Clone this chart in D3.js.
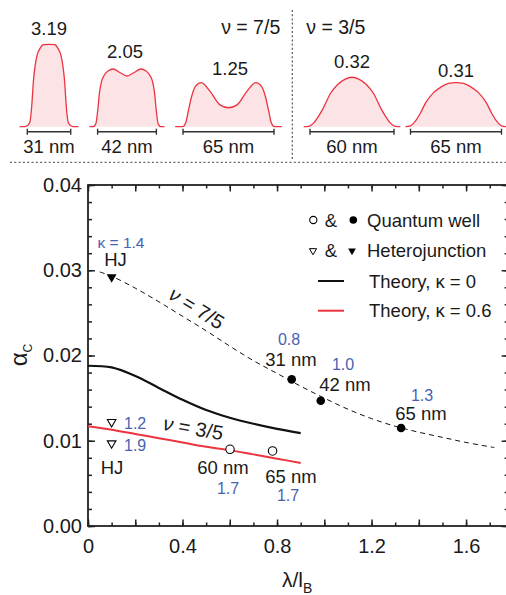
<!DOCTYPE html>
<html>
<head>
<meta charset="utf-8">
<script src="https://cdn.jsdelivr.net/npm/d3@7"></script>
<style>
  html, body { margin: 0; padding: 0; background: #fff; }
  svg text { font-family: "Liberation Sans", Arial, Helvetica, sans-serif; }
</style>
</head>
<body>
<svg id="chart" width="506" height="595"></svg>
<script>
// ---------------- DATA ----------------
// Top panel: density profiles (x in nm relative to well centre, y relative height)
const profileLabels = ["3.19", "2.05", "1.25", "0.32", "0.31"];
const wellWidths = [31, 42, 65, 60, 65];
const wellNu = ["7/5", "7/5", "7/5", "3/5", "3/5"];
const p1x = [-21, -17, -14, -12.8, -12, -11.2, -9.9, -8.3, -6.4, -4.1, 0, 4.1, 6.4, 8.3, 9.9, 11.2, 12, 12.8, 14, 17, 21];
const p1y = [0, 0, 0.04, 0.16, 0.33, 0.54, 0.74, 0.88, 0.95, 0.995, 1, 0.995, 0.95, 0.88, 0.74, 0.54, 0.33, 0.16, 0.04, 0, 0];
const p2x = [-26.8, -24.1, -22.2, -20.9, -19.6, -18.2, -16.1, -13.4, -9.9, -4.8, 0, 4.8, 9.9, 13.4, 16.1, 18.2, 19.6, 20.9, 22.2, 24.1, 26.8];
const p2y = [0, 0, 0.04, 0.2, 0.42, 0.55, 0.63, 0.68, 0.70, 0.655, 0.615, 0.655, 0.70, 0.68, 0.63, 0.55, 0.42, 0.2, 0.04, 0, 0];
const p3x = [-38.1, -32.8, -30.5, -28.6, -26.3, -23.6, -19.4, -13, -6.1, 0, 6.1, 13, 19.4, 23.6, 26.3, 28.6, 30.5, 32.8, 38.1];
const p3y = [0, 0, 0.05, 0.2, 0.37, 0.49, 0.535, 0.425, 0.265, 0.23, 0.265, 0.425, 0.535, 0.49, 0.37, 0.2, 0.05, 0, 0];
const p4x = [-34.5, -31, -27.6, -24.2, -20.7, -15.5, -10.4, -5.2, 0, 5.2, 10.4, 15.5, 20.7, 24.2, 27.6, 31, 34.5];
const p4y = [0, 0.005, 0.04, 0.12, 0.22, 0.40, 0.51, 0.575, 0.60, 0.575, 0.51, 0.40, 0.22, 0.12, 0.04, 0.005, 0];
const p5x = [-36.1, -32.5, -28.9, -25.3, -21.7, -16.2, -10.8, -5.4, 0, 5.4, 10.8, 16.2, 21.7, 25.3, 28.9, 32.5, 36.1];
const p5y = [0, 0.01, 0.07, 0.17, 0.29, 0.41, 0.48, 0.525, 0.535, 0.525, 0.48, 0.41, 0.29, 0.17, 0.07, 0.01, 0];

// Main panel
const xTheory = [0, 0.1, 0.2, 0.3, 0.4, 0.5, 0.6, 0.7, 0.8, 0.9];
const theoryK0 = [0.0188, 0.0186, 0.0176, 0.0162, 0.0148, 0.0136, 0.0127, 0.0120, 0.0114, 0.0109];
const theoryK06 = [0.0117, 0.0113, 0.0108, 0.0103, 0.0098, 0.0093, 0.0089, 0.0084, 0.0079, 0.0074];
const xGuide75 = [0.05, 0.1, 0.2, 0.3, 0.4, 0.5, 0.6, 0.7, 0.8, 0.9, 1.0, 1.1, 1.2, 1.3, 1.4, 1.5, 1.6, 1.72];
const guide75 = [0.0298, 0.0293, 0.0279, 0.0263, 0.0246, 0.0229, 0.0211, 0.0194, 0.0179, 0.0164, 0.0150, 0.0137, 0.0126, 0.0117, 0.0110, 0.0104, 0.0098, 0.0092];
const qw75x = [0.862, 0.985, 1.325];
const qw75y = [0.0172, 0.0147, 0.0115];
const qw75labels = ["31 nm", "42 nm", "65 nm"];
const qw75kappa = ["0.8", "1.0", "1.3"];
const qw35x = [0.601, 0.781];
const qw35y = [0.0090, 0.0088];
const qw35labels = ["60 nm", "65 nm"];
const qw35kappa = ["1.7", "1.7"];
const hj75x = [0.1];
const hj75y = [0.0292];
const hj35x = [0.1, 0.1];
const hj35y = [0.0122, 0.0097];
const hj35kappa = ["1.2", "1.9"];
const xTickLabels = [0, 0.4, 0.8, 1.2, 1.6];
const yTickLabels = [0, 0.01, 0.02, 0.03, 0.04];
const legendItems = ["Quantum well", "Heterojunction", "Theory, \u03ba = 0", "Theory, \u03ba = 0.6"];

// ---------------- STYLE ----------------
const RED = "#ec3440", PINK = "#fce3e6", BLUE = "#4862b0", INK = "#1a1a1a";
const svg = d3.select("#chart");

// ---------------- TOP PANEL ----------------
const centers = [49, 127, 228.5, 352, 456];
const nmPx = 1.4;
const baseY = 126.7;
const hScale = d3.scaleLinear().domain([0, 1]).range([baseY, baseY - 82.4]);
const profiles = [[p1x, p1y], [p2x, p2y], [p3x, p3y], [p4x, p4y], [p5x, p5y]];
const labelY = [34.6, 58.3, 75, 68.3, 76.6];

profiles.forEach(([px, py], i) => {
  const xs = d3.scaleLinear().domain([-1, 1]).range([centers[i] - nmPx, centers[i] + nmPx]);
  const pts = px.map((x, k) => [x, py[k]]);
  const area = d3.area().x(d => xs(d[0])).y0(baseY).y1(d => hScale(d[1])).curve(d3.curveMonotoneX);
  const line = d3.line().x(d => xs(d[0])).y(d => hScale(d[1])).curve(d3.curveMonotoneX);
  svg.append("path").attr("d", area(pts)).attr("fill", PINK);
  svg.append("path").attr("d", line(pts)).attr("fill", "none").attr("stroke", RED).attr("stroke-width", 1.3);
  // scale bar for well width
  const half = wellWidths[i] * nmPx / 2;
  const g = svg.append("g").attr("stroke", "#333").attr("stroke-width", 1.4);
  g.append("line").attr("x1", centers[i] - half).attr("x2", centers[i] + half).attr("y1", 131.7).attr("y2", 131.7);
  g.append("line").attr("x1", centers[i] - half).attr("x2", centers[i] - half).attr("y1", 128.7).attr("y2", 134.7);
  g.append("line").attr("x1", centers[i] + half).attr("x2", centers[i] + half).attr("y1", 128.7).attr("y2", 134.7);
  svg.append("text").attr("x", centers[i]).attr("y", 153.3).attr("text-anchor", "middle")
    .attr("font-size", 18.5).attr("fill", INK).text(wellWidths[i] + " nm");
  svg.append("text").attr("x", centers[i] + (i === 1 ? -2 : (i === 2 ? 1.5 : 0))).attr("y", labelY[i]).attr("text-anchor", "middle")
    .attr("font-size", 18.5).attr("fill", INK).text(profileLabels[i]);
});
svg.append("text").attr("x", 250.7).attr("y", 34).attr("text-anchor", "middle").attr("font-size", 19.5).attr("fill", INK)
  .text("\u03bd = " + wellNu[0]);
svg.append("text").attr("x", 335.8).attr("y", 34).attr("text-anchor", "middle").attr("font-size", 19.5).attr("fill", INK)
  .text("\u03bd = " + wellNu[3]);
svg.append("line").attr("x1", 292.3).attr("x2", 292.3).attr("y1", 10).attr("y2", 161)
  .attr("stroke", "#555").attr("stroke-width", 1.2).attr("stroke-dasharray", "2,2.2");
svg.append("line").attr("x1", 10).attr("x2", 506).attr("y1", 162.3).attr("y2", 162.3)
  .attr("stroke", "#666").attr("stroke-width", 1.3).attr("stroke-dasharray", "2,2.3");

// ---------------- MAIN PANEL ----------------
const x0 = 88, x1 = 88 + 1.78 * 236.3, yTop = 185, yBot = 526;
const x = d3.scaleLinear().domain([0, 1.78]).range([x0, x1]);
const y = d3.scaleLinear().domain([0, 0.04]).range([yBot, yTop]);

// frame
svg.append("rect").attr("x", x0).attr("y", yTop).attr("width", x1 - x0).attr("height", yBot - yTop)
  .attr("fill", "none").attr("stroke", "#222").attr("stroke-width", 1.8);

function styleAxis(g) {
  g.select(".domain").remove();
  g.selectAll("line").attr("stroke", "#222").attr("stroke-width", 1.5);
  g.selectAll("text").attr("fill", INK);
}
const xMinor = d3.range(0, 18).map(i => i * 0.1);
const xMajor = d3.range(0, 9).map(i => i * 0.2);
const yMinor = d3.range(0, 21).map(i => i * 0.002);
const yMajor = yTickLabels;

// bottom
svg.append("g").attr("transform", `translate(0,${yBot})`)
  .call(d3.axisBottom(x).tickValues(xMinor).tickSize(-3.5).tickFormat("")).call(styleAxis);
svg.append("g").attr("transform", `translate(0,${yBot})`)
  .call(d3.axisBottom(x).tickValues(xMajor).tickSize(-6.5).tickFormat("")).call(styleAxis);
svg.append("g").attr("transform", `translate(0,${yBot})`)
  .call(d3.axisBottom(x).tickValues(xTickLabels).tickSize(0).tickPadding(13).tickFormat(d => d === 0 ? "0" : d3.format(".1f")(d)))
  .call(styleAxis).selectAll("text").attr("font-size", 20).attr("font-family", "Liberation Sans, Arial, sans-serif");
// top
svg.append("g").attr("transform", `translate(0,${yTop})`)
  .call(d3.axisTop(x).tickValues(xMinor).tickSize(-3.5).tickFormat("")).call(styleAxis);
svg.append("g").attr("transform", `translate(0,${yTop})`)
  .call(d3.axisTop(x).tickValues(xMajor).tickSize(-6.5).tickFormat("")).call(styleAxis);
// left
svg.append("g").attr("transform", `translate(${x0},0)`)
  .call(d3.axisLeft(y).tickValues(yMinor).tickSize(-4).tickFormat("")).call(styleAxis);
svg.append("g").attr("transform", `translate(${x0},0)`)
  .call(d3.axisLeft(y).tickValues(yMajor).tickSize(-7).tickFormat("")).call(styleAxis);
svg.append("g").attr("transform", `translate(${x0},0)`)
  .call(d3.axisLeft(y).tickValues(yTickLabels).tickSize(0).tickPadding(6).tickFormat(d3.format(".2f")))
  .call(styleAxis).selectAll("text").attr("font-size", 20).attr("font-family", "Liberation Sans, Arial, sans-serif");
// right
svg.append("g").attr("transform", `translate(${x1},0)`)
  .call(d3.axisRight(y).tickValues(yMinor).tickSize(-4).tickFormat("")).call(styleAxis);
svg.append("g").attr("transform", `translate(${x1},0)`)
  .call(d3.axisRight(y).tickValues(yMajor).tickSize(-7).tickFormat("")).call(styleAxis);

// axis titles
const xt = svg.append("text").attr("x", 282).attr("y", 587).attr("font-size", 21).attr("fill", INK);
xt.append("tspan").text("\u03bb/l");
xt.append("tspan").attr("font-size", 14).attr("dy", 6).text("B");
const yt = svg.append("text").attr("transform", "translate(27,355) rotate(-90)").attr("text-anchor", "middle")
  .attr("font-size", 24).attr("fill", INK);
yt.append("tspan").text("\u03b1");
yt.append("tspan").attr("font-size", 12).attr("dy", 5).text("C");

// curves
const lineGen = d3.line().x(d => x(d[0])).y(d => y(d[1])).curve(d3.curveCatmullRom.alpha(0.5));
svg.append("path").attr("d", lineGen(xGuide75.map((v, i) => [v, guide75[i]])))
  .attr("fill", "none").attr("stroke", "#111").attr("stroke-width", 1).attr("stroke-dasharray", "5,4");
svg.append("path").attr("d", lineGen(xTheory.map((v, i) => [v, theoryK0[i]])))
  .attr("fill", "none").attr("stroke", "#111").attr("stroke-width", 2.2);
svg.append("path").attr("d", lineGen(xTheory.map((v, i) => [v, theoryK06[i]])))
  .attr("fill", "none").attr("stroke", RED).attr("stroke-width", 2);

// markers
const triDown = d3.symbol().type(d3.symbolTriangle).size(42);
const triDownSmall = d3.symbol().type(d3.symbolTriangle).size(32);
qw75x.forEach((v, i) => svg.append("circle").attr("cx", x(v)).attr("cy", y(qw75y[i])).attr("r", 4.3).attr("fill", "#000"));
qw35x.forEach((v, i) => svg.append("circle").attr("cx", x(v)).attr("cy", y(qw35y[i])).attr("r", 4.2)
  .attr("fill", "#fff").attr("stroke", "#000").attr("stroke-width", 1.1));
hj75x.forEach((v, i) => svg.append("path").attr("d", triDown())
  .attr("transform", `translate(${x(v)},${y(hj75y[i])}) rotate(180)`).attr("fill", "#000"));
hj35x.forEach((v, i) => svg.append("path").attr("d", triDownSmall())
  .attr("transform", `translate(${x(v)},${y(hj35y[i])}) rotate(180)`).attr("fill", "#fff").attr("stroke", "#000").attr("stroke-width", 1.1));

// annotations
function txt(xp, yp, s, opts = {}) {
  return svg.append("text").attr("x", xp).attr("y", yp).attr("text-anchor", opts.anchor || "middle")
    .attr("font-size", opts.size || 18.5).attr("fill", opts.color || INK).text(s);
}
txt(121, 247.5, "\u03ba = 1.4", { size: 15.5, color: BLUE });
txt(115.5, 266, "HJ");
const lblPos75 = [[291, 365.6], [345, 390.6], [421, 419.6]];
const kapPos75 = [[289, 344.7], [343, 369.7], [422, 400.7]];
qw75labels.forEach((s, i) => txt(lblPos75[i][0], lblPos75[i][1], s));
qw75kappa.forEach((s, i) => txt(kapPos75[i][0], kapPos75[i][1], s, { size: 16, color: BLUE }));
const lblPos35 = [[223, 473.6], [291, 482.6]];
const kapPos35 = [[228, 493.7], [288, 500.7]];
qw35labels.forEach((s, i) => txt(lblPos35[i][0], lblPos35[i][1], s));
qw35kappa.forEach((s, i) => txt(kapPos35[i][0], kapPos35[i][1], s, { size: 16, color: BLUE }));
hj35kappa.forEach((s, i) => txt(124, [428.7, 450.7][i], s, { size: 16, color: BLUE, anchor: "start" }));
txt(112, 473.6, "HJ");

const nu75 = svg.append("text").attr("transform", "translate(193,314) rotate(32)").attr("text-anchor", "middle")
  .attr("font-size", 20).attr("fill", INK);
nu75.append("tspan").attr("font-style", "italic").text("\u03bd");
nu75.append("tspan").text(" = 7/5");
const nu35 = svg.append("text").attr("transform", "translate(192,435) rotate(10)").attr("text-anchor", "middle")
  .attr("font-size", 20).attr("fill", INK);
nu35.append("tspan").attr("font-style", "italic").text("\u03bd");
nu35.append("tspan").text(" = 3/5");

// legend
const legY = [220, 250.7, 281, 310.7];
svg.append("circle").attr("cx", 313.3).attr("cy", legY[0]).attr("r", 3.6).attr("fill", "#fff").attr("stroke", "#000").attr("stroke-width", 1.1);
svg.append("circle").attr("cx", 353.3).attr("cy", legY[0]).attr("r", 3.8).attr("fill", "#000");
svg.append("path").attr("d", d3.symbol().type(d3.symbolTriangle).size(22)()).attr("transform", `translate(313,${legY[1]}) rotate(180)`)
  .attr("fill", "#fff").attr("stroke", "#000").attr("stroke-width", 1);
svg.append("path").attr("d", d3.symbol().type(d3.symbolTriangle).size(26)()).attr("transform", `translate(352,${legY[1]}) rotate(180)`)
  .attr("fill", "#000");
txt(331, legY[0] + 6.6, "&");
txt(331, legY[1] + 6.6, "&");
svg.append("line").attr("x1", 318).attr("x2", 344).attr("y1", legY[2]).attr("y2", legY[2]).attr("stroke", "#111").attr("stroke-width", 2);
svg.append("line").attr("x1", 318).attr("x2", 344).attr("y1", legY[3]).attr("y2", legY[3]).attr("stroke", RED).attr("stroke-width", 2);
legendItems.forEach((s, i) => txt(i < 2 ? 367 : 369, legY[i] + 6.6, s, { anchor: "start" }));
</script>
</body>
</html>
